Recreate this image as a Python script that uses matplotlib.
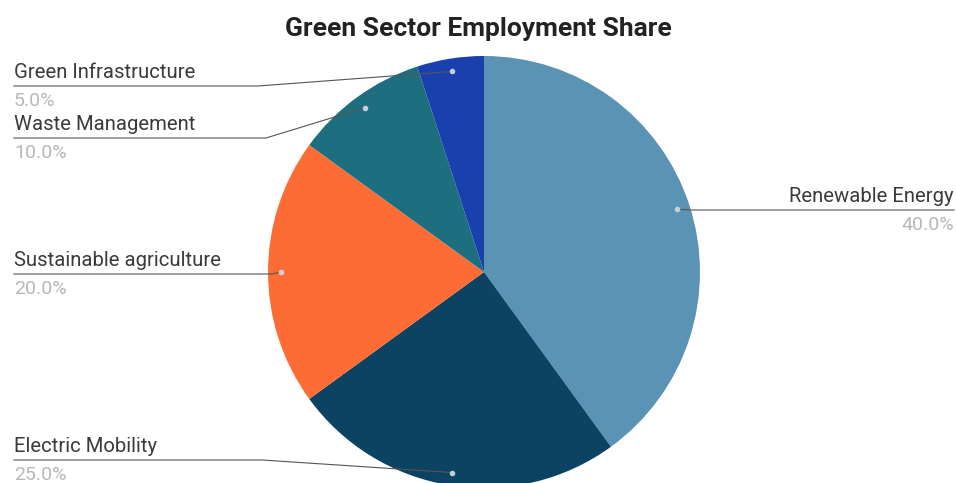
import numpy as np
import matplotlib as mpl
mpl.use('Agg')
import matplotlib.pyplot as plt

plt.rcParams['font.family'] = ['Roboto', 'DejaVu Sans']

# data
sectors = ['Renewable Energy', 'Electric Mobility', 'Sustainable agriculture',
           'Waste Management', 'Green Infrastructure']
shares = [40.0, 25.0, 20.0, 10.0, 5.0]
colors = ['#5a93b3', '#0c4262', '#fd6c35', '#1d6f80', '#1a40ad']

# label layout (pixels from top), side of chart
label_y = [196, 446, 260, 124, 72]
label_side = ['right', 'left', 'left', 'left', 'left']
line_end_x = [690, 262, 272, 266, 258]

W, H = 956, 483
cx, cy, R = 484, 272, 216

fig = plt.figure(figsize=(W / 100, H / 100), dpi=100)
ax = fig.add_axes([0, 0, 1, 1])

ax.pie(shares, colors=colors, startangle=90, counterclock=False,
       center=(cx, H - cy), radius=R, wedgeprops=dict(linewidth=0))
ax.set_xlim(0, W)
ax.set_ylim(0, H)
ax.set_aspect('equal')
ax.axis('off')

fig.text(0.5, 1 - 29 / H, 'Green Sector Employment Share', ha='center', va='center',
         fontsize=19, fontweight='bold', color='#222222')

total = sum(shares)
start = 90.0
for name, val, ly, side, ex in zip(sectors, shares, label_y, label_side, line_end_x):
    mid = np.deg2rad(start - val / total * 360 / 2)
    start -= val / total * 360
    px = cx + 0.94 * R * np.cos(mid)
    py = (H - cy) + 0.94 * R * np.sin(mid)
    uy = H - (ly + 14)
    if side == 'left':
        tx, ha = 14, 'left'
    else:
        tx, ha = W - 2, 'right'
    ax.plot([tx, ex, px], [uy, uy, py], color='#555555', lw=0.8)
    ax.plot(px, py, 'o', ms=3, color='#cfd8dc', alpha=0.9)
    ax.text(tx, H - ly, name, ha=ha, va='center', fontsize=14.6, color='#3a3a3a')
    ax.text(tx, H - (ly + 29), '%.1f%%' % val, ha=ha, va='center', fontsize=14,
            color='#b8b8b8')

fig.savefig('out.png', dpi=100)
